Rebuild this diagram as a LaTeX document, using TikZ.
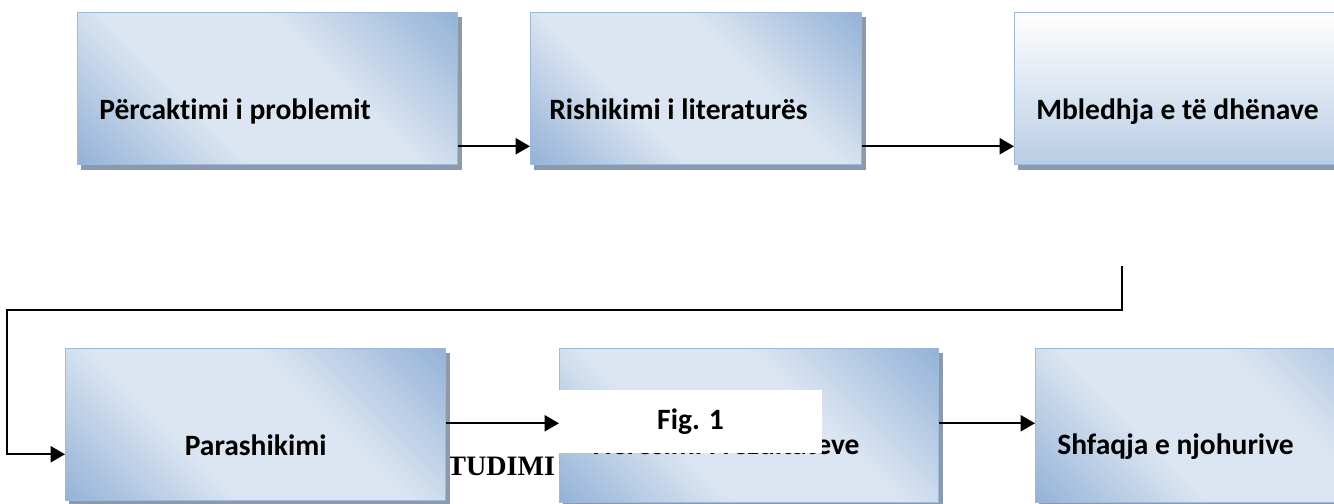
\documentclass[tikz,border=0pt]{standalone}
\usepackage{fontspec}
\setmainfont{Carlito}[Ligatures=CommonOff]
\newfontfamily\timesbold{Liberation Serif}
\usetikzlibrary{arrows.meta, positioning, shadows}
\definecolor{boxlight}{HTML}{DCE6F2}
\definecolor{boxdark}{HTML}{95B3D7}
\definecolor{boxedge}{HTML}{9BB9DD}
\definecolor{boxpale}{HTML}{B9CDE5}
\definecolor{shadowgray}{HTML}{8E9AA8}
\pgfdeclarehorizontalshading{diagshade}{100bp}{color(0bp)=(boxdark); color(15bp)=(boxdark); color(38bp)=(boxlight); color(60bp)=(boxlight); color(85bp)=(boxdark); color(100bp)=(boxdark)}

\begin{document}
\begin{tikzpicture}[
  stepbox/.style={draw=boxedge, line width=0.9pt, shading=diagshade, shading angle=45,
    minimum width=#1, minimum height=3.8cm, inner sep=0pt, anchor=north west,
    drop shadow={shadow xshift=0.1cm, shadow yshift=-0.12cm, fill=shadowgray,
      draw=shadowgray, opacity=1}},
  stepbox/.default=9.5cm,
  palebox/.style={stepbox, top color=white, bottom color=boxpale},
  steptext/.style={font=\fontsize{21}{25}\selectfont\bfseries, inner sep=0pt},
  figlabel/.style={fill=white, minimum width=6.575cm, minimum height=1.575cm,
    inner sep=0pt, font=\fontsize{21}{25}\selectfont\bfseries},
  >={Triangle[length=3.6mm, width=4mm]},
  flow/.style={->, line width=1.6pt},
]

% Page frame
\useasboundingbox (0,0) rectangle (33.35,-12.575);
\clip (0,0) rectangle (33.35,-12.575);

% Caption text, partly hidden behind the boxes
\node[font=\timesbold\fontsize{20}{24}\selectfont\bfseries, inner sep=0pt,
  anchor=base west] (studimi) at (11.175,-11.875) {TUDIMI};

% ============================================================
% Top row
% ============================================================
\node[stepbox] (box1) at (1.925,-0.3) {};
\node[stepbox=8.275cm] (box2) at (13.25,-0.3) {};
\node[palebox] (box3) at (25.35,-0.3) {};

\node[steptext, anchor=base west] (txt1) at ([xshift=0.55cm, yshift=1.15cm]box1.south west)
  {Përcaktimi i problemit};
\node[steptext, anchor=base west] (txt2) at ([xshift=0.475cm, yshift=1.15cm]box2.south west)
  {Rishikimi i literaturës};
\node[steptext, anchor=base west] (txt3) at ([xshift=0.55cm, yshift=1.15cm]box3.south west)
  {Mbledhja e të dhënave};

% ============================================================
% Bottom row
% ============================================================
\node[stepbox] (box4) at (1.625,-8.7) {};
\node[stepbox=9.475cm, minimum height=3.85cm] (box5) at (13.975,-8.7) {};
\node[stepbox, minimum height=3.85cm] (box6) at (25.875,-8.7) {};

\node[steptext, anchor=base] (txt4) at ([yshift=1.15cm]box4.south)
  {Parashikimi};
\node[steptext, anchor=base west] (txt5) at ([xshift=0.7cm, yshift=1.225cm]box5.south west)
  {Vlerësimi i rezultateve};
\node[steptext, anchor=base west] (txt6) at ([xshift=0.55cm, yshift=1.225cm]box6.south west)
  {Shfaqja e njohurive};

% ============================================================
% Connectors
% ============================================================
\coordinate (a1) at ([yshift=0.475cm]box1.south east);
\draw[flow] (a1) -- (a1 -| box2.west);

\coordinate (a2) at ([yshift=0.475cm]box2.south east);
\draw[flow] (a2) -- (a2 -| box3.west);

% return line from the top row down to the start of the bottom row
\coordinate (loopstart) at (28.05,-6.65);
\coordinate (loopcorner) at (0.18,-7.75);
\draw[flow] (loopstart) |- (loopcorner) |- ([yshift=1.175cm]box4.south west);

\coordinate (a4) at ([yshift=1.95cm]box4.south east);
\draw[flow] (a4) -- (a4 -| box5.west);

\coordinate (a5) at ([yshift=2cm]box5.south east);
\draw[flow] (a5) -- (a5 -| box6.west);

% Figure label on top
\node[figlabel] (fig1) at (17.2625,-10.5375) {Fig. 1};

\end{tikzpicture}
\end{document}
